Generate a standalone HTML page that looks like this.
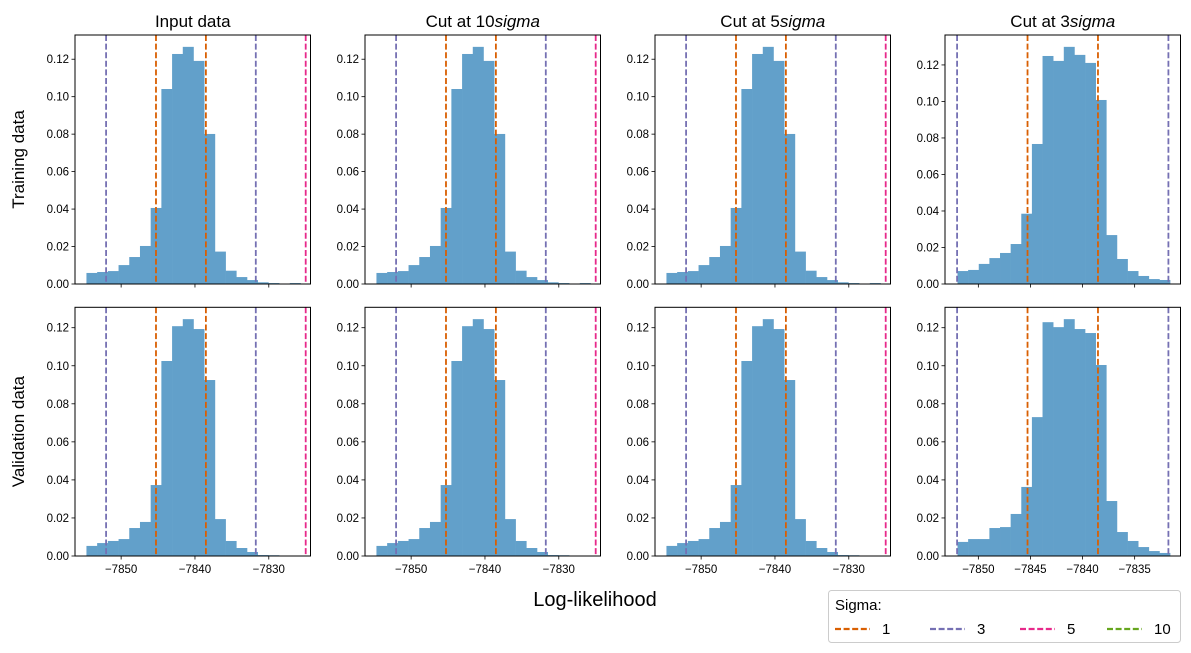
<!DOCTYPE html>
<html><head><meta charset="utf-8"><style>
body{margin:0;background:#fff;}
svg{display:block;font-family:"Liberation Sans","DejaVu Sans",sans-serif;}
</style></head><body>
<svg id="fig" width="1191" height="653" viewBox="0 0 1191 653"></svg>
<script>
// ---- data ----
const columnTitles = ["Input data", "Cut at 10", "Cut at 5", "Cut at 3"];
const rowLabels = ["Training data", "Validation data"];
const trainFull = [0.0059,0.0064,0.0069,0.0101,0.0144,0.0203,0.0406,0.1041,0.1228,0.1266,0.1191,0.0801,0.0173,0.0071,0.0037,0.0021,0.0009,0.0005,0,0.0005];
const validFull = [0.0053,0.0068,0.0079,0.0089,0.0147,0.0179,0.0373,0.1025,0.1208,0.1245,0.1193,0.0925,0.0194,0.0079,0.0042,0.0021,0.0005,0.0004,0,0];
const trainCut3 = [0.0071,0.0077,0.0110,0.0142,0.0170,0.0219,0.0385,0.0767,0.1249,0.1222,0.1299,0.1255,0.1211,0.1008,0.0268,0.0137,0.0071,0.0044,0.0027,0.0022];
const validCut3 = [0.0074,0.0089,0.0089,0.0147,0.0152,0.0221,0.0363,0.0730,0.1229,0.1203,0.1245,0.1193,0.1172,0.1004,0.0289,0.0126,0.0079,0.0047,0.0026,0.0016];
const binStartFull = -7854.7, binEndFull = -7825.7;
const binStartCut3 = -7852.0, binEndCut3 = -7831.6;
const meanLL = -7841.9;
const sigmaLL = 3.38;
const sigmaLevels = [1, 3, 5, 10];
const sigmaColors = ["#d95f02", "#7570b3", "#e7298a", "#66a61e"];
const xTicksFull = [-7850, -7840, -7830];
const xTicksCut3 = [-7850, -7845, -7840, -7835];
const yTicks = [0, 0.02, 0.04, 0.06, 0.08, 0.10, 0.12];

// ---- layout ----
const NS = "http://www.w3.org/2000/svg";
const svg = document.getElementById("fig");
function mk(tag, attrs, parent){const e=document.createElementNS(NS,tag);for(const k in attrs)e.setAttribute(k,attrs[k]);(parent||svg).appendChild(e);return e;}
const colX = [75, 365, 655, 945], colW = 235.5;
const rowY = [35, 307.3], rowH = [249, 248.7];
const xRange = [[-7856.25,-7824.35],[-7856.25,-7824.35],[-7856.25,-7824.35],[-7853.2,-7830.6]];
const fmt = v => (v<0?"\u2212":"")+Math.abs(v);

for(let r=0;r<2;r++){
  for(let c=0;c<4;c++){
    const cut3 = c===3;
    const vals = r===0 ? (cut3?trainCut3:trainFull) : (cut3?validCut3:validFull);
    const b0 = cut3?binStartCut3:binStartFull, b1 = cut3?binEndCut3:binEndFull;
    const [xmin,xmax] = xRange[c];
    const L=colX[c], T=rowY[r], W=colW, H=rowH[r];
    const ymax = Math.max(...vals)*1.05;
    const X = v => L + (v-xmin)/(xmax-xmin)*W;
    const Y = v => T + H - v/ymax*H;
    const g = mk("g",{});
    
    
    const bw = (b1-b0)/vals.length;
    vals.forEach((v,i)=>{
      if(v<=0) return;
      const x0=X(b0+i*bw), x1=X(b0+(i+1)*bw);
      const rect = mk("rect",{x:x0,y:Y(v),width:x1-x0+0.3,height:Y(0)-Y(v),fill:"#62a0ca"},g);
      
      
    });
    const clip = "clip"+r+c;
    const cp = mk("clipPath",{id:clip},g); mk("rect",{x:L,y:T,width:W,height:H},cp);
    sigmaLevels.forEach((s,k)=>{
      [-1,1].forEach(sg=>{
        const v = meanLL + sg*s*sigmaLL;
        if(v<xmin||v>xmax) return;
        const ln = mk("line",{x1:X(v),x2:X(v),y1:T,y2:T+H,stroke:sigmaColors[k],"stroke-width":1.8,"stroke-dasharray":"6,2.6","clip-path":"url(#"+clip+")"},g);
        
        
      });
    });
    const frame = mk("rect",{x:L,y:T,width:W,height:H,fill:"none",stroke:"#000","stroke-width":1},g);
    
    
    yTicks.forEach(t=>{
      if(t>ymax) return;
      const y=Y(t);
      mk("line",{x1:L-3.5,x2:L,y1:y,y2:y,stroke:"#000","stroke-width":0.8},g);
      const tx = mk("text",{x:L-6,y:y+4,"text-anchor":"end","font-size":11.5,fill:"#000"},g);
      tx.textContent = t.toFixed(2);
      
      
    });
    (cut3?xTicksCut3:xTicksFull).forEach(t=>{
      const x=X(t);
      mk("line",{x1:x,x2:x,y1:T+H,y2:T+H+3.5,stroke:"#000","stroke-width":0.8},g);
      if(r===1){
        const tx = mk("text",{x:x,y:T+H+17,"text-anchor":"middle","font-size":11.5,fill:"#000"},g);
        tx.textContent = fmt(t);
        
        
      }
    });
    if(r===0){
      const tt = mk("text",{x:L+W/2,y:27,"text-anchor":"middle","font-size":17,fill:"#000"},g);
      tt.textContent = columnTitles[c];
      if(c>0){const ts=mk("tspan",{"font-style":"italic"},tt);ts.textContent="sigma";}
      
      
    }
    if(c===0){
      const cy = T+H/2;
      const yl = mk("text",{x:24,y:cy,"text-anchor":"middle","font-size":17,fill:"#000",transform:"rotate(-90 24 "+cy+")"},g);
      yl.textContent = rowLabels[r];
      
      
    }
  }
}
const xl = mk("text",{x:595,y:606,"text-anchor":"middle","font-size":20,fill:"#000"});
xl.textContent="Log-likelihood";



const lg = mk("g",{});


mk("rect",{x:828.5,y:590.5,width:352,height:52,rx:3,fill:"#fff",stroke:"#ccc","stroke-width":1},lg);
const lt = mk("text",{x:835,y:610,"font-size":15,fill:"#000"},lg); lt.textContent="Sigma:";
const legX = [835, 930, 1020, 1107];
sigmaLevels.forEach((s,k)=>{
  const ln = mk("line",{x1:legX[k],x2:legX[k]+35,y1:629,y2:629,stroke:sigmaColors[k],"stroke-width":2.2,"stroke-dasharray":"6,2.6"},lg);
  
  
  const t = mk("text",{x:legX[k]+47,y:634,"font-size":15,fill:"#000"},lg);
  t.textContent = s;
  
  
});
</script>
</body></html>
